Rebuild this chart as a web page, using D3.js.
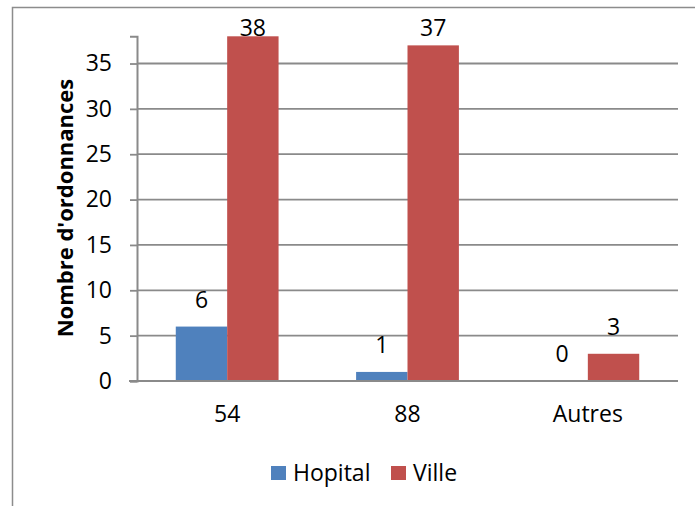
<!DOCTYPE html>
<html>
<head>
<meta charset="utf-8">
<script src="https://cdn.jsdelivr.net/npm/d3@7"></script>
<style>
  html, body { margin: 0; padding: 0; background: #fff; }
  svg { display: block; }
  text { font-family: "Open Sans", "DejaVu Sans", sans-serif; fill: #000; }
</style>
</head>
<body>
<svg id="chart" width="695" height="506"></svg>
<script>
const categories = ["54", "88", "Autres"];
const seriesNames = ["Hopital", "Ville"];
const hopital = [6, 1, 0];
const ville = [38, 37, 3];
const yTicks = [0, 5, 10, 15, 20, 25, 30, 35];
const yTitle = "Nombre d'ordonnances";
const colors = ["#4F81BD", "#C0504D"];

const svg = d3.select("#chart");
const W = 695, H = 506;
const FS = 23;

// outer border (extends beyond the visible frame)
svg.append("rect")
  .attr("x", 12.5).attr("y", 7.5)
  .attr("width", W + 20).attr("height", H + 20)
  .attr("fill", "none").attr("stroke", "#8c8c8c").attr("stroke-width", 1.5);

const plot = { left: 137, right: 678, top: 36.3, bottom: 381 };

const x0 = d3.scaleBand().domain(categories)
  .range([plot.left, plot.right]).paddingInner(0.43).paddingOuter(0.215);
const x1 = d3.scaleBand().domain(seriesNames).range([0, x0.bandwidth()]);
const y = d3.scaleLinear().domain([0, 38]).range([plot.bottom, plot.top]);

const gridColor = "#8a8a8a";

// gridlines
svg.append("g").selectAll("line").data(yTicks.filter(d => d > 0)).join("line")
  .attr("x1", plot.left).attr("x2", plot.right)
  .attr("y1", d => y(d)).attr("y2", d => y(d))
  .attr("stroke", gridColor).attr("stroke-width", 1.8);

// y axis
const yAxis = d3.axisLeft(y).tickValues(yTicks).tickSize(7).tickPadding(18);
const gy = svg.append("g").attr("transform", `translate(${plot.left},0)`).call(yAxis);
gy.select(".domain").attr("stroke", gridColor).attr("stroke-width", 2);
gy.selectAll(".tick line").attr("stroke", gridColor).attr("stroke-width", 1.8);
gy.selectAll(".tick text").attr("font-size", FS).attr("font-family", "Open Sans").attr("fill", "#000");

// bars
const data = categories.map((c, i) => ({ cat: c, vals: [hopital[i], ville[i]] }));
const groups = svg.append("g").selectAll("g").data(data).join("g")
  .attr("transform", d => `translate(${x0(d.cat)},0)`);
groups.selectAll("rect").data(d => d.vals.map((v, j) => ({ v, s: seriesNames[j], j }))).join("rect")
  .attr("x", d => x1(d.s))
  .attr("width", x1.bandwidth())
  .attr("y", d => y(d.v))
  .attr("height", d => y(0) - y(d.v))
  .attr("fill", d => colors[d.j]);

// data labels
groups.selectAll("text.lbl").data(d => d.vals.map((v, j) => ({ v, s: seriesNames[j] }))).join("text")
  .attr("class", "lbl")
  .attr("x", d => x1(d.s) + x1.bandwidth() / 2)
  .attr("y", d => Math.max(y(d.v) - 19, plot.top))
  .attr("text-anchor", "middle")
  .attr("font-size", FS)
  .text(d => d.v);

// x axis
const xAxis = d3.axisBottom(x0).tickSize(0).tickPadding(25);
const gx = svg.append("g").attr("transform", `translate(0,${plot.bottom})`).call(xAxis);
gx.select(".domain").remove();
gx.selectAll(".tick text").attr("font-size", FS).attr("font-family", "Open Sans").attr("fill", "#000");
svg.append("line")
  .attr("x1", plot.left - 8).attr("x2", plot.right)
  .attr("y1", plot.bottom).attr("y2", plot.bottom)
  .attr("stroke", gridColor).attr("stroke-width", 2);

// y title
svg.append("text")
  .attr("transform", `translate(73,208) rotate(-90)`)
  .attr("text-anchor", "middle")
  .attr("font-size", 22)
  .attr("font-weight", "bold")
  .text(yTitle);

// legend
const legend = svg.append("g").attr("transform", "translate(271,466)");
const legendX = [0, 120];
seriesNames.forEach((s, i) => {
  const g = legend.append("g").attr("transform", `translate(${legendX[i]},0)`);
  g.append("rect").attr("width", 15).attr("height", 14).attr("fill", colors[i]);
  g.append("text").attr("x", 22).attr("y", 14.5).attr("font-size", FS).text(s);
});
</script>
</body>
</html>
